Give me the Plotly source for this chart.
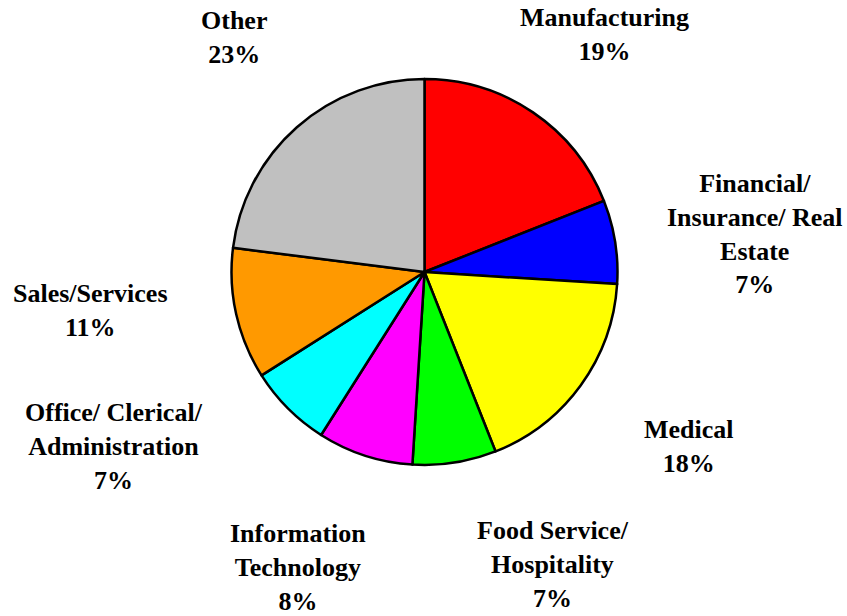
import plotly.graph_objects as go

W, H = 847, 616

labels = ["Manufacturing", "Financial/ Insurance/ Real Estate", "Medical",
          "Food Service/ Hospitality", "Information Technology",
          "Office/ Clerical/ Administration", "Sales/Services", "Other"]
label_text = ["Manufacturing", "Financial/<br>Insurance/ Real<br>Estate", "Medical",
              "Food Service/<br>Hospitality", "Information<br>Technology",
              "Office/ Clerical/<br>Administration", "Sales/Services", "Other"]
values = [19, 7, 18, 7, 8, 7, 11, 23]
colors = ["#FF0000", "#0000FF", "#FFFF00", "#00FF00", "#FF00FF", "#00FFFF", "#FF9900", "#C0C0C0"]

# label anchor centres (window pixels)
label_pos = [(604, 34), (755, 234), (689, 446), (553, 564), (298, 567),
             (114, 446), (90, 310), (234, 38)]

cx, cy, r = 424.5, 272, 193

fig = go.Figure(go.Pie(
    labels=labels, values=values, sort=False, direction="clockwise", rotation=0,
    marker=dict(colors=colors, line=dict(color="black", width=2.5)),
    textinfo="none", hoverinfo="label+percent", showlegend=False,
    domain=dict(x=[(cx - r) / W, (cx + r) / W], y=[1 - (cy + r) / H, 1 - (cy - r) / H]),
))

for txt, v, (px, py) in zip(label_text, values, label_pos):
    fig.add_annotation(
        x=px / W, y=1 - py / H, xref="paper", yref="paper",
        text=f"{txt}<br>{v}%", showarrow=False, align="center",
        xanchor="center", yanchor="middle",
        font=dict(family="Liberation Serif, Times New Roman, serif", size=26, color="black", weight="bold"),
    )

fig.update_layout(
    width=W, height=H, margin=dict(l=0, r=0, t=0, b=0),
    paper_bgcolor="white", plot_bgcolor="white",
)
fig.write_html(
    "out.html",
    config={"displayModeBar": False},
    post_script="document.body.style.margin='0';document.body.style.overflow='hidden';",
)
